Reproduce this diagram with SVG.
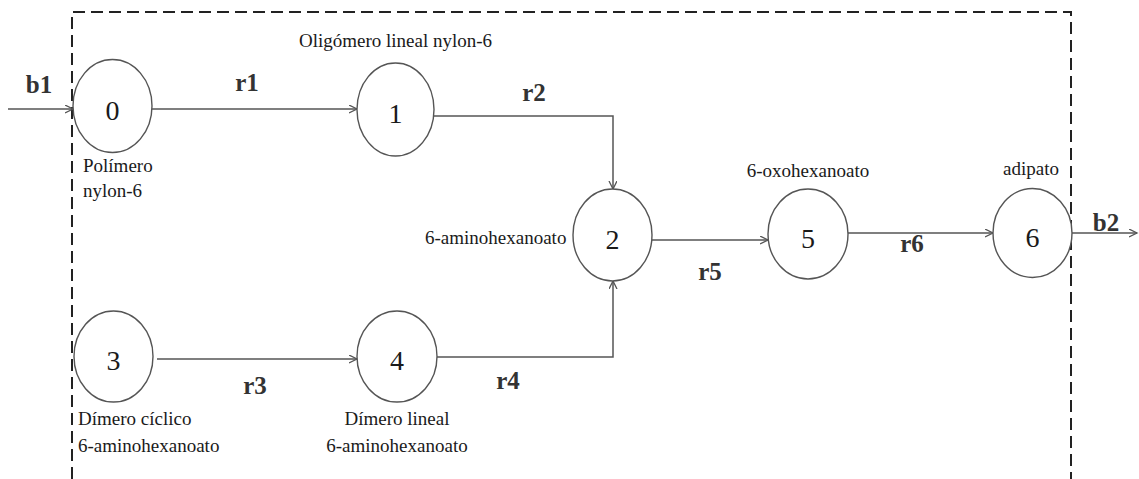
<svg xmlns="http://www.w3.org/2000/svg" width="1139" height="479" viewBox="0 0 1139 479">
<style>
.nd{fill:#fff;stroke:#555;stroke-width:1.4}
.num{font-family:"Liberation Serif","Times New Roman",serif;font-size:28px;fill:#1a1a1a;text-anchor:middle}
.lb{font-family:"Liberation Serif","Times New Roman",serif;font-size:19px;fill:#1a1a1a}
.c{text-anchor:middle}
.rl{font-family:"Liberation Serif","Times New Roman",serif;font-size:25px;font-weight:bold;fill:#333;text-anchor:middle}
.cn{fill:none;stroke:#555;stroke-width:1.5}
.bx{fill:none;stroke:#222;stroke-width:2;stroke-dasharray:12 6}
</style>
<defs>
<marker id="ah" markerWidth="10" markerHeight="10" refX="8" refY="4" orient="auto" markerUnits="userSpaceOnUse">
<path d="M0,0 L8,4 L0,8" fill="none" stroke="#555" stroke-width="1.3"/>
</marker>
</defs>
<rect width="1139" height="479" fill="#fff"/>
<path class="bx" d="M72,479 V12 H1071 V479"/>
<g id="connectors">
<path class="cn" d="M8,109 H73" marker-end="url(#ah)"/>
<path class="cn" d="M152,109 H357" marker-end="url(#ah)"/>
<path class="cn" d="M434,116 H613 V189" marker-end="url(#ah)"/>
<path class="cn" d="M157,359 H357" marker-end="url(#ah)"/>
<path class="cn" d="M437,357 H613 V281" marker-end="url(#ah)"/>
<path class="cn" d="M652,240 H768" marker-end="url(#ah)"/>
<path class="cn" d="M848,233 H993" marker-end="url(#ah)"/>
<path class="cn" d="M1072,233 H1137" marker-end="url(#ah)"/>
<text class="rl" x="39" y="93">b1</text>
<text class="rl" x="247" y="91">r1</text>
<text class="rl" x="534" y="101">r2</text>
<text class="rl" x="255" y="394">r3</text>
<text class="rl" x="508" y="389">r4</text>
<text class="rl" x="710" y="280">r5</text>
<text class="rl" x="912" y="252">r6</text>
<text class="rl" x="1106" y="231">b2</text>
</g>
<g id="node0">
<ellipse class="nd" cx="112.5" cy="106" rx="39.5" ry="46.5"/>
<text class="num" x="112.5" y="120">0</text>
<text class="lb" x="83" y="172">Polímero</text>
<text class="lb" x="83" y="197">nylon-6</text>
</g>
<g id="node1">
<ellipse class="nd" cx="395.5" cy="109.5" rx="38.5" ry="46.5"/>
<text class="num" x="395.5" y="123">1</text>
<text class="lb c" x="395.5" y="47">Oligómero lineal nylon-6</text>
</g>
<g id="node2">
<ellipse class="nd" cx="612.5" cy="235" rx="39.5" ry="46"/>
<text class="num" x="612.5" y="249">2</text>
<text class="lb" x="425" y="244">6-aminohexanoato</text>
</g>
<g id="node3">
<ellipse class="nd" cx="113.5" cy="356.5" rx="39.5" ry="45.5"/>
<text class="num" x="113.5" y="370">3</text>
<text class="lb" x="78" y="425">Dímero cíclico</text>
<text class="lb" x="78" y="452">6-aminohexanoato</text>
</g>
<g id="node4">
<ellipse class="nd" cx="397" cy="356.5" rx="40" ry="45.5"/>
<text class="num" x="397" y="370">4</text>
<text class="lb c" x="397" y="425">Dímero lineal</text>
<text class="lb c" x="397" y="452">6-aminohexanoato</text>
</g>
<g id="node5">
<ellipse class="nd" cx="808" cy="234" rx="40" ry="45"/>
<text class="num" x="808" y="248">5</text>
<text class="lb c" x="808" y="177">6-oxohexanoato</text>
</g>
<g id="node6">
<ellipse class="nd" cx="1032.5" cy="233" rx="39.5" ry="44.5"/>
<text class="num" x="1032.5" y="247">6</text>
<text class="lb c" x="1031" y="175">adipato</text>
</g>
</svg>
